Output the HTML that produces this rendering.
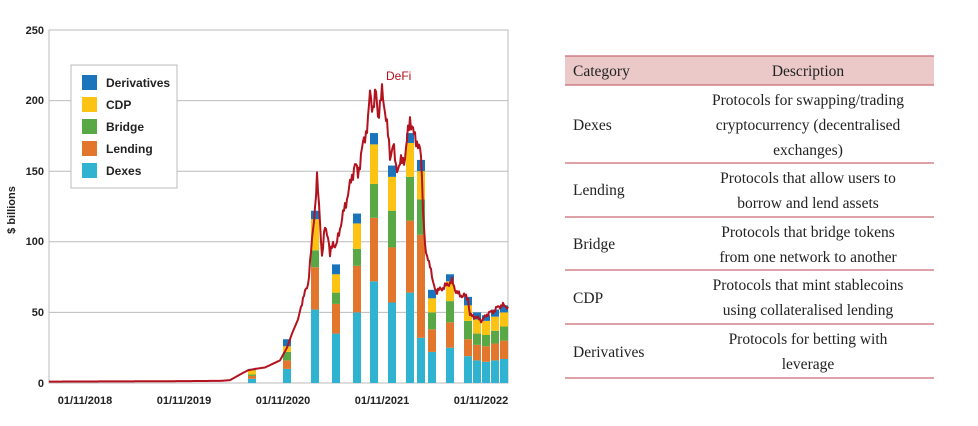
<!DOCTYPE html>
<html><head><meta charset="utf-8"><style>
body{margin:0;background:#fff;width:978px;height:426px;overflow:hidden}
svg{position:absolute;left:0;top:0}
.t{font-family:"Liberation Sans",sans-serif;font-size:11px;fill:#222}
.s{font-family:"Liberation Serif",serif;font-size:15.5px;fill:#222}
</style></head><body>
<svg id="c" width="978" height="426" xmlns="http://www.w3.org/2000/svg">
<rect x="49" y="30" width="459" height="353" fill="#fff" stroke="#bbb"/>
<g stroke="#bbb" stroke-width="1">
<line x1="49" y1="100.6" x2="508" y2="100.6"/>
<line x1="49" y1="171.2" x2="508" y2="171.2"/>
<line x1="49" y1="241.8" x2="508" y2="241.8"/>
<line x1="49" y1="312.4" x2="508" y2="312.4"/>
</g>
<g class="t" text-anchor="end" font-weight="bold">
<text x="44" y="34">250</text><text x="44" y="104">200</text><text x="44" y="175">150</text>
<text x="44" y="245">100</text><text x="44" y="316">50</text><text x="44" y="387">0</text>
</g>
<text class="t" font-weight="bold" transform="translate(15,210) rotate(-90)" text-anchor="middle">$ billions</text>
<g class="t" text-anchor="middle" font-weight="bold">
<text x="85" y="404">01/11/2018</text><text x="184" y="404">01/11/2019</text>
<text x="283" y="404">01/11/2020</text><text x="382" y="404">01/11/2021</text>
<text x="481" y="404">01/11/2022</text>
</g>
<g id="bars"></g>
<polyline id="ln" fill="none" stroke="#b3121f" stroke-width="2" stroke-linejoin="round"/>
<text x="386" y="80" font-family="Liberation Sans,sans-serif" font-size="12" fill="#b3121f">DeFi</text>
<rect x="71" y="65" width="106" height="123" fill="#fff" stroke="#bbb"/>
<g class="t" font-size="12" font-weight="bold" style="font-size:12px">
<rect x="82" y="75" width="15" height="15" fill="#1a74bb"/><text x="106" y="87">Derivatives</text>
<rect x="82" y="97" width="15" height="15" fill="#fcc312"/><text x="106" y="109">CDP</text>
<rect x="82" y="119" width="15" height="15" fill="#58a946"/><text x="106" y="131">Bridge</text>
<rect x="82" y="141" width="15" height="15" fill="#e2762c"/><text x="106" y="153">Lending</text>
<rect x="82" y="163" width="15" height="15" fill="#2fb3d1"/><text x="106" y="175">Dexes</text>
</g>
<rect x="565" y="56" width="369" height="29" fill="#ecc9c9"/>
<g stroke="#c86b73" stroke-width="1.3">
<line x1="565" y1="56" x2="934" y2="56"/><line x1="565" y1="85" x2="934" y2="85"/>
<line x1="565" y1="163" x2="934" y2="163"/><line x1="565" y1="217" x2="934" y2="217"/>
<line x1="565" y1="270" x2="934" y2="270"/><line x1="565" y1="324" x2="934" y2="324"/>
<line x1="565" y1="378" x2="934" y2="378"/>
</g>
<g class="s">
<text x="573" y="76">Category</text>
<text x="573" y="130">Dexes</text>
<text x="573" y="195">Lending</text>
<text x="573" y="249">Bridge</text>
<text x="573" y="303">CDP</text>
<text x="573" y="357">Derivatives</text>
</g>
<g class="s" text-anchor="middle">
<text x="808" y="76">Description</text>
<text x="808" y="105">Protocols for swapping/trading</text>
<text x="808" y="130">cryptocurrency (decentralised</text>
<text x="808" y="155">exchanges)</text>
<text x="808" y="183">Protocols that allow users to</text>
<text x="808" y="208">borrow and lend assets</text>
<text x="808" y="237">Protocols that bridge tokens</text>
<text x="808" y="262">from one network to another</text>
<text x="808" y="290">Protocols that mint stablecoins</text>
<text x="808" y="315">using collateralised lending</text>
<text x="808" y="344">Protocols for betting with</text>
<text x="808" y="369">leverage</text>
</g>
</svg>
<script>
var Y=function(v){return 383-v*1.412};
var B=[[252,3,5,6,9,10],[287,10,16,22,26,31],[315,52,82,94,116,122],[336,35,56,64,77,84],[357,50,83,95,113,120],[374,72,117,141,169,177],[392,57,96,122,146,154],[410,64,115,146,170,177],[421,32,105,130,150,158],[432,22,38,50,60,66],[450,25,43,58,72,77],[468,19,31,44,55,61],[477,16,27,35,45,50],[486,15,26,34,44,48],[495,16,28,37,47,52],[504,17,30,40,50,55]];
var C=["#2fb3d1","#e2762c","#58a946","#fcc312","#1a74bb"],h="";
B.forEach(function(b){var p=0;for(var i=0;i<5;i++){var v=b[i+1];h+='<rect x="'+(b[0]-4)+'" y="'+Y(v)+'" width="8" height="'+((v-p)*1.412)+'" fill="'+C[i]+'"/>';p=v;}});
document.getElementById("bars").innerHTML=h;
var L=[[49,1],[150,1.2],[220,1.5],[230,2],[240,6],[248,9],[255,10],[265,11],[280,16],[287,25],[292,35],[298,45],[303,60],[308,70],[312,100],[315,125],[317,145],[320,115],[322,90],[325,110],[328,105],[330,90],[333,100],[336,96],[340,110],[345,125],[350,140],[355,155],[358,148],[362,165],[368,185],[370,205],[373,195],[376,205],[378,190],[382,205],[386,190],[390,160],[393,170],[396,152],[400,155],[405,160],[410,188],[414,175],[418,170],[421,160],[424,110],[426,90],[430,85],[433,70],[437,65],[442,67],[448,70],[452,72],[456,65],[460,62],[464,62],[468,60],[470,48],[474,47],[478,46],[482,44],[486,48],[490,50],[494,51],[498,54],[503,55],[508,54]];
var P=[];
for(var i=0;i<L.length-1;i++){var a=L[i],b=L[i+1];for(var x=a[0];x<b[0];x+=1){var t=(x-a[0])/(b[0]-a[0]);var v=a[1]+(b[1]-a[1])*t;if(x>300){v+=((Math.sin(x*2.7)+Math.sin(x*5.3))*v*0.018);}P.push(x+","+Y(v).toFixed(1));}}
P.push("508,"+Y(54));
document.getElementById("ln").setAttribute("points",P.join(" "));
</script>
</body></html>
